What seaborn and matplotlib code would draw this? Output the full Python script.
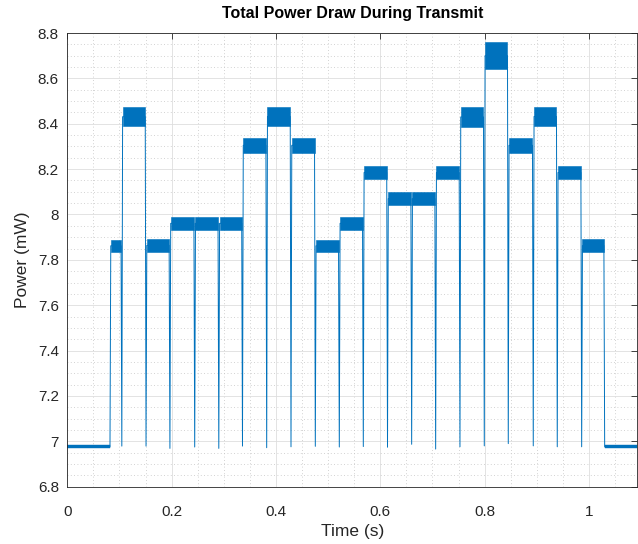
import numpy as np
import pandas as pd
import matplotlib
matplotlib.use("Agg")
import matplotlib.pyplot as plt
import seaborn as sns
from matplotlib.ticker import MultipleLocator, FuncFormatter

# ---- data ----
baseline = 6.976
baseline_band = (6.971, 6.982)
t_first_start = 0.0818
t_last_end = 1.0301
t_max = 1.093
# boundaries between consecutive transmit segments (s)
boundaries = [0.1045, 0.1509, 0.1967, 0.2442, 0.2904, 0.3358, 0.3822, 0.4288,
              0.4754, 0.5214, 0.5674, 0.6138, 0.6601, 0.7061, 0.7527, 0.7993,
              0.8453, 0.8932, 0.9392, 0.9860]
# minimum reached in the dip at each boundary (mW)
dip_min = [6.979, 6.979, 6.969, 6.975, 6.969, 6.979, 6.972, 6.976, 6.978, 6.975,
           6.977, 6.974, 6.987, 6.966, 6.976, 6.980, 6.990, 6.980, 6.976, 6.976]
# noise band of each segment (mW)
seg_lo = [7.836, 8.390, 7.836, 7.932, 7.932, 7.932, 8.272, 8.390, 8.272, 7.836, 7.932,
          8.155, 8.040, 8.040, 8.155, 8.386, 8.640, 8.272, 8.390, 8.155, 7.836]
seg_hi = [7.888, 8.472, 7.892, 7.990, 7.990, 7.990, 8.338, 8.474, 8.338, 7.888, 7.990,
          8.215, 8.100, 8.100, 8.215, 8.474, 8.760, 8.338, 8.474, 8.215, 7.890]
x_ticks = [0, 0.2, 0.4, 0.6, 0.8, 1.0]
y_ticks = [6.8, 7.0, 7.2, 7.4, 7.6, 7.8, 8.0, 8.2, 8.4, 8.6, 8.8]

# ---- build the trace from the segment table ----
w = 0.0015
starts = [t_first_start] + boundaries
ends = boundaries + [t_last_end]
levels = [(a + b) / 2 for a, b in zip(seg_lo, seg_hi)]
tt = [0.0, t_first_start, t_first_start + w]
vv = [baseline, baseline, levels[0]]
for k, b in enumerate(boundaries):
    tt += [b - w, b, b + w]
    vv += [levels[k], dip_min[k], levels[k + 1]]
tt += [t_last_end - w, t_last_end, t_max]
vv += [levels[-1], baseline, baseline]
trace = pd.DataFrame({"t": tt, "p": vv})

# ---- style ----
sns.set_theme(style="white")
plt.rcParams["font.family"] = ["Liberation Sans", "DejaVu Sans"]
col = "#0072BD"
txt = "#262626"

fig = plt.figure(figsize=(6.38, 5.44), dpi=100)
ax = fig.add_axes([0.1055, 0.1053, 0.8937, 0.834])

ax.set_xlim(0, t_max)
ax.set_ylim(6.8, 8.8)
ax.xaxis.set_minor_locator(MultipleLocator(0.05))
ax.yaxis.set_minor_locator(MultipleLocator(0.05))
ax.set_xticks(x_ticks)
ax.set_yticks(y_ticks)
fmt = FuncFormatter(lambda v, p: f"{v:g}")
ax.xaxis.set_major_formatter(fmt)
ax.yaxis.set_major_formatter(fmt)

ax.grid(which="major", color="#dedede", linewidth=0.6, linestyle="-")
ax.grid(which="minor", color="#c4c4c4", linewidth=0.6, linestyle=(0, (1, 3)))
ax.set_axisbelow(True)

sns.lineplot(data=trace, x="t", y="p", ax=ax, color=col, linewidth=0.7,
             sort=False, estimator=None, zorder=3)
for s, e, lo, hi in zip(starts, ends, seg_lo, seg_hi):
    ax.fill_between([s + w, e - w], [lo, lo], [hi, hi], color=col,
                    edgecolor=col, linewidth=0.4, zorder=4)
ax.fill_between([0, t_first_start], baseline_band[0], baseline_band[1], color=col,
                edgecolor=col, linewidth=0.3, zorder=4)
ax.fill_between([t_last_end, t_max], baseline_band[0], baseline_band[1], color=col,
                edgecolor=col, linewidth=0.3, zorder=4)

for sp in ax.spines.values():
    sp.set_visible(True)
    sp.set_color(txt)
    sp.set_linewidth(0.6)
    sp.set_zorder(5)
ax.tick_params(which="major", direction="in", length=4, width=0.6, color=txt,
               top=True, right=True, labelsize=11, labelcolor=txt)
ax.tick_params(which="minor", length=0)
ax.tick_params(axis="x", pad=13)
ax.tick_params(axis="y", pad=6)

ax.set_title("Total Power Draw During Transmit", fontsize=11.5, fontweight="bold",
             color="black", pad=11)
ax.set_xlabel("Time (s)", fontsize=12.5, color=txt, labelpad=4)
ax.set_ylabel("Power (mW)", fontsize=12.5, color=txt, labelpad=6)

fig.savefig("out.png", dpi=100)
